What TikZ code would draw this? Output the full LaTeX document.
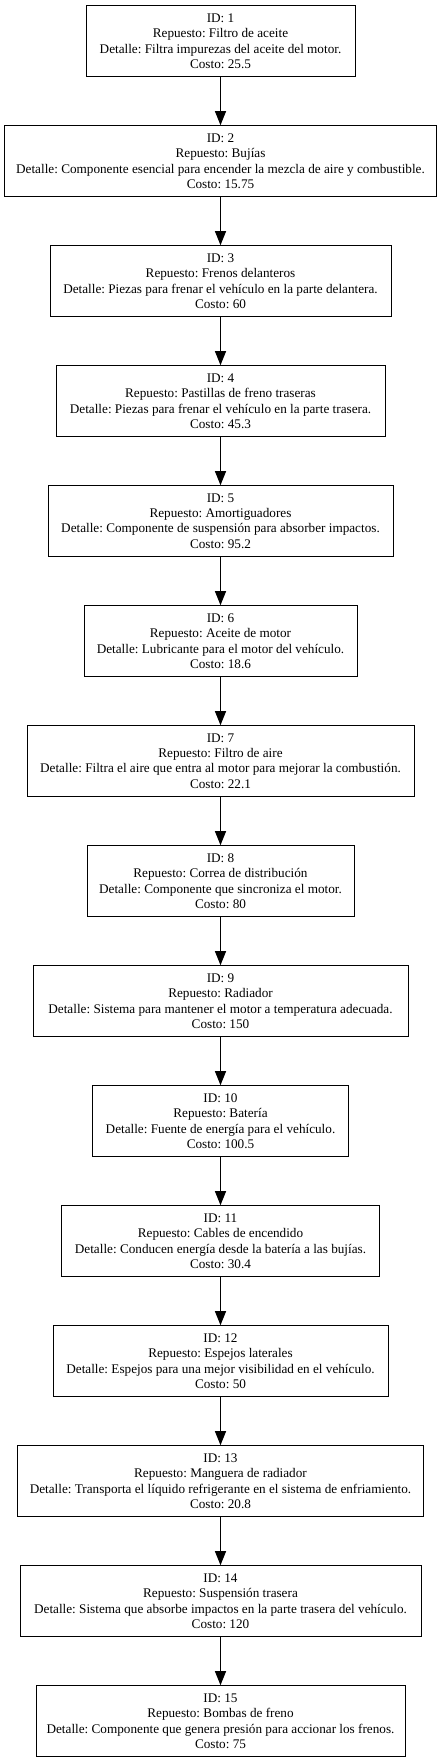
\documentclass[tikz,border=0pt]{standalone}
\usepackage{fontspec}
\setmainfont{Liberation Serif}
\usetikzlibrary{arrows.meta}
\frenchspacing
\tikzset{
  item/.style={draw=black, line width=1pt, rectangle, inner sep=0pt, minimum height=71pt, align=center,
    font=\fontsize{13.2}{15.1}\selectfont\frenchspacing},
  link/.style={draw=black, line width=1pt, -{Triangle[length=14pt,width=11pt]}}
}
\begin{document}
\begin{tikzpicture}[x=1pt,y=1pt]
\useasboundingbox (0,0) rectangle (441,-1763);
\node[item, minimum width=269pt] (n1) at (220.5,-41.2) {ID: 1\\Repuesto: Filtro de aceite\\Detalle: Filtra impurezas del aceite del motor.\\Costo: 25.5};
\node[item, minimum width=432pt] (n2) at (220.5,-161.2) {ID: 2\\Repuesto: Bujías\\Detalle: Componente esencial para encender la mezcla de aire y combustible.\\Costo: 15.75};
\node[item, minimum width=341pt] (n3) at (220.5,-281.2) {ID: 3\\Repuesto: Frenos delanteros\\Detalle: Piezas para frenar el vehículo en la parte delantera.\\Costo: 60};
\node[item, minimum width=329pt] (n4) at (220.5,-401.2) {ID: 4\\Repuesto: Pastillas de freno traseras\\Detalle: Piezas para frenar el vehículo en la parte trasera.\\Costo: 45.3};
\node[item, minimum width=345pt] (n5) at (220.5,-521.2) {ID: 5\\Repuesto: Amortiguadores\\Detalle: Componente de suspensión para absorber impactos.\\Costo: 95.2};
\node[item, minimum width=273pt] (n6) at (220.5,-641.2) {ID: 6\\Repuesto: Aceite de motor\\Detalle: Lubricante para el motor del vehículo.\\Costo: 18.6};
\node[item, minimum width=387pt] (n7) at (220.5,-761.2) {ID: 7\\Repuesto: Filtro de aire\\Detalle: Filtra el aire que entra al motor para mejorar la combustión.\\Costo: 22.1};
\node[item, minimum width=267pt] (n8) at (220.5,-881.2) {ID: 8\\Repuesto: Correa de distribución\\Detalle: Componente que sincroniza el motor.\\Costo: 80};
\node[item, minimum width=375pt] (n9) at (220.5,-1001.2) {ID: 9\\Repuesto: Radiador\\Detalle: Sistema para mantener el motor a temperatura adecuada.\\Costo: 150};
\node[item, minimum width=256pt] (n10) at (220.5,-1121.2) {ID: 10\\Repuesto: Batería\\Detalle: Fuente de energía para el vehículo.\\Costo: 100.5};
\node[item, minimum width=318pt] (n11) at (220.5,-1241.2) {ID: 11\\Repuesto: Cables de encendido\\Detalle: Conducen energía desde la batería a las bujías.\\Costo: 30.4};
\node[item, minimum width=335pt] (n12) at (220.5,-1361.2) {ID: 12\\Repuesto: Espejos laterales\\Detalle: Espejos para una mejor visibilidad en el vehículo.\\Costo: 50};
\node[item, minimum width=406pt] (n13) at (220.5,-1481.2) {ID: 13\\Repuesto: Manguera de radiador\\Detalle: Transporta el líquido refrigerante en el sistema de enfriamiento.\\Costo: 20.8};
\node[item, minimum width=401pt] (n14) at (220.5,-1601.2) {ID: 14\\Repuesto: Suspensión trasera\\Detalle: Sistema que absorbe impactos en la parte trasera del vehículo.\\Costo: 120};
\node[item, minimum width=369pt] (n15) at (220.5,-1721.2) {ID: 15\\Repuesto: Bombas de freno\\Detalle: Componente que genera presión para accionar los frenos.\\Costo: 75};
\foreach \a/\b in {n1/n2,n2/n3,n3/n4,n4/n5,n5/n6,n6/n7,n7/n8,n8/n9,n9/n10,n10/n11,n11/n12,n12/n13,n13/n14,n14/n15}
  \draw[link] (\a) -- (\b);
\end{tikzpicture}
\end{document}
